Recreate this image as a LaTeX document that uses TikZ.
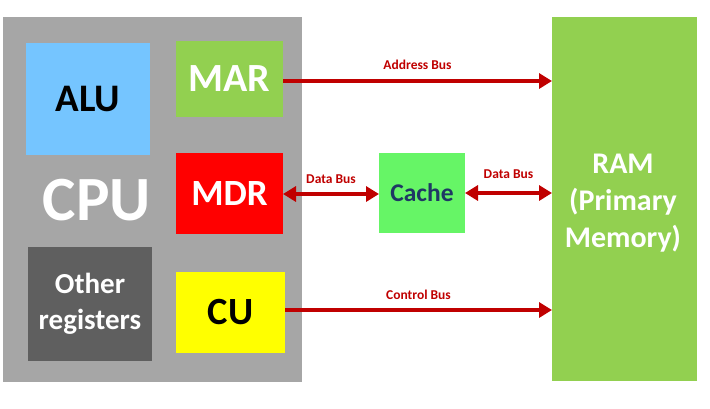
\documentclass[tikz,border=0pt]{standalone}
\usepackage{fontspec}
\setmainfont{Carlito}
\usetikzlibrary{arrows.meta}
\definecolor{cpugray}{HTML}{A6A6A6}
\definecolor{alublue}{HTML}{75C5FF}
\definecolor{margreen}{HTML}{92D050}
\definecolor{mdrred}{HTML}{FF0000}
\definecolor{othergray}{HTML}{5F5F5F}
\definecolor{cuyellow}{HTML}{FFFF00}
\definecolor{cachegreen}{HTML}{66F566}
\definecolor{busred}{HTML}{C00000}
\definecolor{cachetext}{HTML}{1F3864}
\tikzset{
  blk/.style={inner sep=0pt, outer sep=0pt, align=center, font=\bfseries},
  bus/.style={busred, line width=4pt, -{Triangle[length=13pt,width=15pt]}},
  dbus/.style={busred, line width=4pt, {Triangle[length=13pt,width=15pt]}-{Triangle[length=13pt,width=15pt]}},
  buslabel/.style={busred, font=\bfseries\fontsize{13.5}{15}\selectfont, inner sep=0pt}
}
\begin{document}
\begin{tikzpicture}[x=1pt,y=-1pt]
\useasboundingbox (0,0) rectangle (710,408);
\fill[white] (0,0) rectangle (710,408);
% CPU
\node[blk, fill=cpugray, minimum width=299pt, minimum height=365pt] (cpu) at (152.5,199.5) {};
\node[blk, text=white, font=\bfseries\fontsize{63}{63}\selectfont] (cputext) at (97,200) {CPU};
\node[blk, fill=alublue, minimum width=124pt, minimum height=112pt, font=\bfseries\fontsize{39}{39}\selectfont] (alu) at (88,99) {ALU};
\node[blk, fill=margreen, text=white, minimum width=107pt, minimum height=76pt, font=\bfseries\fontsize{40}{40}\selectfont] (mar) at (229.5,79) {MAR};
\node[blk, fill=mdrred, text=white, minimum width=107pt, minimum height=81pt, font=\bfseries\fontsize{37}{37}\selectfont] (mdr) at (229.5,193.5) {MDR};
\node[blk, fill=othergray, text=white, minimum width=124pt, minimum height=114pt, font=\bfseries\fontsize{29}{36}\selectfont] (other) at (90,304) {Other\\registers};
\node[blk, fill=cuyellow, minimum width=109pt, minimum height=81pt, font=\bfseries\fontsize{38.5}{38.5}\selectfont] (cu) at (230.5,312.5) {CU};
% Cache
\node[blk, fill=cachegreen, text=cachetext, minimum width=86pt, minimum height=80pt, font=\bfseries\fontsize{25.5}{25.5}\selectfont] (cache) at (422,193) {Cache};
% RAM
\node[blk, fill=margreen, text=white, minimum width=145pt, minimum height=364pt] (ram) at (624.5,199) {};
\node[blk, text=white, font=\bfseries\fontsize{30}{37}\selectfont] (ramtext) at (623,203) {RAM\\(Primary\\Memory)};
% buses
\coordinate (ramA) at (ram.west |- 0,81);
\coordinate (marA) at (mar.east |- 0,81);
\draw[bus] (marA) -- (ramA) node[buslabel, midway, above=9pt] (lab1) {Address Bus};
\coordinate (mdrD) at (mdr.east |- 0,194);
\coordinate (cacheDL) at (cache.west |- 0,194);
\draw[dbus] (mdrD) -- (cacheDL) node[buslabel, midway, above=8pt] (lab2) {Data Bus};
\coordinate (cacheDR) at (cache.east |- 0,193);
\coordinate (ramD) at (ram.west |- 0,193);
\draw[dbus] (cacheDR) -- (ramD) node[buslabel, midway, above=12pt] (lab3) {Data Bus};
\coordinate (cuC) at (cu.east |- 0,310);
\coordinate (ramC) at (ram.west |- 0,310);
\draw[bus] (cuC) -- (ramC) node[buslabel, midway, above=8pt] (lab4) {Control Bus};
\end{tikzpicture}
\end{document}
